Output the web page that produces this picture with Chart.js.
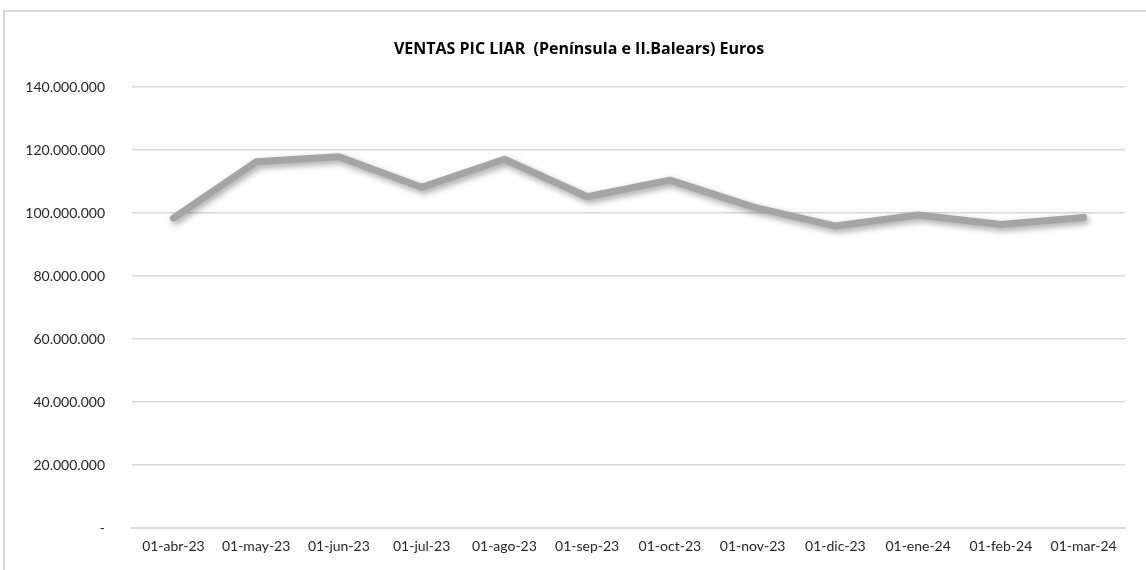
<!DOCTYPE html>
<html>
<head>
<meta charset="utf-8">
<script src="https://cdn.jsdelivr.net/npm/chart.js@4/dist/chart.umd.min.js"></script>
<style>
  html, body { margin: 0; padding: 0; background: #fff; }
  #wrap { position: relative; width: 1146px; height: 570px; }
</style>
</head>
<body>
<div id="wrap"><canvas id="chart" width="1146" height="570"></canvas></div>
<script>
// ===== Ventas PIC LIAR (Península e II.Balears) =====
const months = ["01-abr-23", "01-may-23", "01-jun-23", "01-jul-23", "01-ago-23", "01-sep-23",
                "01-oct-23", "01-nov-23", "01-dic-23", "01-ene-24", "01-feb-24", "01-mar-24"];
const ventas = [98400000, 116300000, 117900000, 108200000, 117100000, 105200000,
                110500000, 102000000, 95900000, 99400000, 96400000, 98600000];
const yMin = 0;
const yMax = 140000000;
const yStep = 20000000;
const titulo = "VENTAS PIC LIAR  (Península e II.Balears) Euros";

const FONT = "Lato, 'Open Sans', sans-serif";

// miles con punto, cero como "-"
function fmt(v) {
  if (v === 0) return "-";
  return Math.round(v).toString().replace(/\B(?=(\d{3})+(?!\d))/g, ".");
}

// marco del gráfico (izquierda y arriba)
const frame = {
  id: "frame",
  beforeDraw(chart) {
    const c = chart.ctx;
    c.save();
    c.strokeStyle = "#d9d9d9";
    c.lineWidth = 2;
    c.beginPath();
    c.moveTo(4, chart.height);
    c.lineTo(4, 11);
    c.lineTo(chart.width, 11);
    c.stroke();
    c.restore();
  }
};

// sombra de la línea
const shadow = {
  id: "shadow",
  beforeDatasetDraw(chart) {
    const c = chart.ctx;
    c.save();
    c.shadowColor = "rgba(0,0,0,0.35)";
    c.shadowBlur = 6;
    c.shadowOffsetX = 2;
    c.shadowOffsetY = 3;
  },
  afterDatasetDraw(chart) {
    chart.ctx.restore();
  }
};

new Chart(document.getElementById("chart"), {
  type: "line",
  data: {
    labels: months,
    datasets: [{
      data: ventas,
      borderColor: "#a5a5a5",
      borderWidth: 7,
      borderCapStyle: "round",
      borderJoinStyle: "round",
      pointRadius: 0,
      tension: 0,
      fill: false
    }]
  },
  options: {
    responsive: false,
    animation: false,
    layout: { padding: { left: 12, right: 0, top: 0, bottom: 0 } },
    plugins: {
      legend: { display: false },
      tooltip: { enabled: false },
      title: {
        display: true,
        text: titulo,
        color: "#000",
        font: { family: "'Open Sans', sans-serif", size: 16, weight: "bold" },
        padding: { top: 40, bottom: 28 }
      }
    },
    scales: {
      x: {
        offset: true,
        grid: { display: false, drawTicks: false },
        border: { display: true, color: "#d9d9d9", width: 2 },
        ticks: {
          color: "#262626",
          font: { family: FONT, size: 14 },
          padding: 10,
          maxRotation: 0,
          autoSkip: false
        },
        afterFit(scale) { scale.height = 42; }
      },
      y: {
        min: yMin,
        max: yMax,
        grid: { color: "#d9d9d9", lineWidth: 1.5, drawTicks: false },
        border: { display: false },
        ticks: {
          stepSize: yStep,
          color: "#262626",
          font: { family: FONT, size: 14 },
          padding: 27,
          callback: v => fmt(v)
        },
        afterFit(scale) { scale.width = 120; }
      },
      // margen derecho vacío
      yRight: {
        position: "right",
        min: yMin,
        max: yMax,
        grid: { display: false, drawTicks: false },
        border: { display: false },
        ticks: { display: false },
        afterFit(scale) { scale.width = 21; }
      }
    }
  },
  plugins: [frame, shadow]
});
</script>
</body>
</html>
